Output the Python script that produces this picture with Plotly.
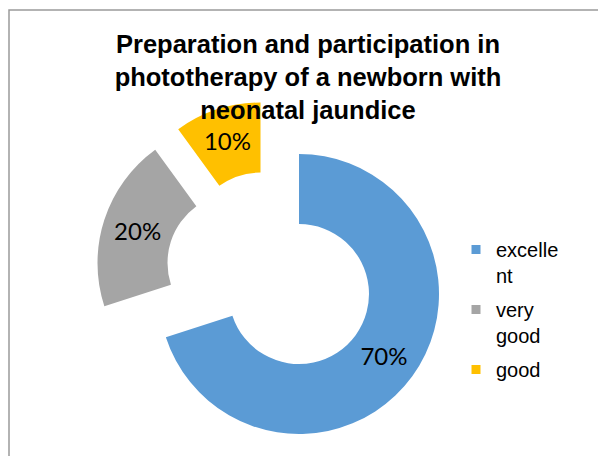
import plotly.graph_objects as go

# ---- data ----
categories = ["excellent", "very good", "good"]
legend_labels = ["excelle<br>nt", "very<br>good", "good"]
values = [70, 20, 10]
colors = ["#5B9BD5", "#A5A5A5", "#FFC000"]

W, H = 598, 456
R = 140  # ring outer radius in px
# slice centres in px (blue is the base donut; the other two are exploded)
centres = [(299, 294), (237.5, 263), (260.5, 242.5)]

fig = go.Figure()

for i, (cx, cy) in enumerate(centres):
    cols = [c if j == i else "rgba(0,0,0,0)" for j, c in enumerate(colors)]
    tmpl = ["%{percent:.0%}" if j == i else "" for j in range(len(values))]
    fig.add_trace(go.Pie(
        labels=categories,
        values=values,
        sort=False,
        direction="clockwise",
        rotation=0,
        hole=0.5,
        marker=dict(colors=cols, line=dict(width=0)),
        texttemplate=tmpl,
        textinfo="none",
        textposition="inside",
        insidetextorientation="horizontal",
        insidetextfont=dict(family="Lato, Carlito, sans-serif", size=24, color="#000000"),
        showlegend=False,
        hoverinfo="skip",
        domain=dict(
            x=[(cx - R) / W, (cx + R) / W],
            y=[(H - cy - R) / H, (H - cy + R) / H],
        ),
    ))

# legend entries
for i, lab in enumerate(legend_labels):
    fig.add_trace(go.Scatter(
        x=[None], y=[None], mode="markers", name=lab,
        legendgroup=str(i),
        marker=dict(symbol="square", size=9, color=colors[i]),
        showlegend=True,
    ))

fig.add_shape(type="rect", xref="paper", yref="paper",
              x0=9 / W, x1=1.05, y0=-0.05, y1=1 - 10 / H,
              line=dict(color="#9A9A9A", width=1.5), fillcolor="rgba(0,0,0,0)")

fig.update_layout(
    width=W, height=H,
    margin=dict(l=0, r=0, t=0, b=0),
    paper_bgcolor="white", plot_bgcolor="white",
    title=dict(
        text="Preparation and participation in<br>phototherapy of a newborn with<br>neonatal jaundice",
        font=dict(family="Liberation Sans, Arial, sans-serif", size=25.5, color="#000000", weight="bold"),
        x=308 / W, xanchor="center", xref="container",
        y=1 - 53 / H, yanchor="top", yref="container",
    ),
    legend=dict(
        x=456 / W, xanchor="left", y=1 - 230 / H, yanchor="top",
        font=dict(family="Liberation Sans, Arial, sans-serif", size=20, color="#000000"),
        valign="top", tracegroupgap=5, bgcolor="rgba(0,0,0,0)",
    ),
    xaxis=dict(visible=False), yaxis=dict(visible=False),
)

fig.write_html("out.html", config={"displayModeBar": False},
               post_script="document.body.style.margin='0';")
